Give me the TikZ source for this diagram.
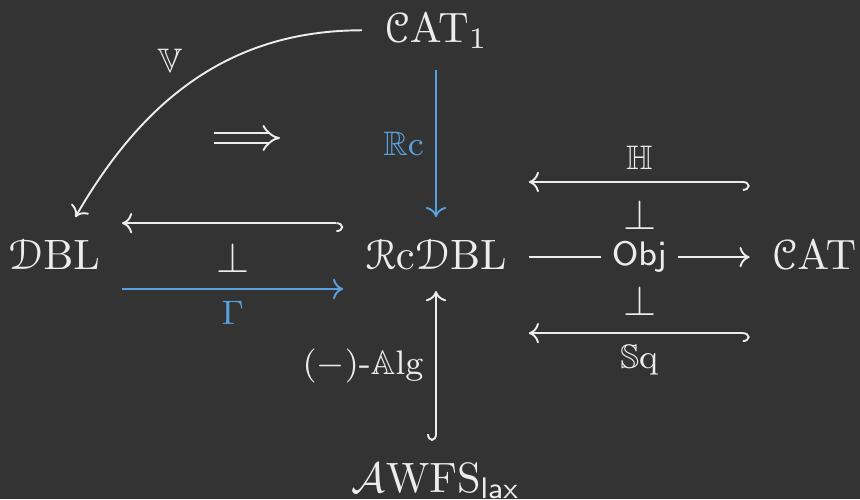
\documentclass[tikz,border=0pt]{standalone}
\usepackage{amssymb}
\usepackage[mathscr]{euscript}
\usetikzlibrary{arrows.meta,calc}
\DeclareMathAlphabet{\mathbbold}{U}{bbold}{m}{n}
\definecolor{bg}{RGB}{51,51,51}
\definecolor{fg}{RGB}{236,236,236}
\definecolor{hl}{RGB}{88,160,222}
\newcommand{\catname}{\ensuremath{\mathscr{C}\mathrm{AT}}}
\newcommand{\dblname}{\ensuremath{\mathscr{D}\mathrm{BL}}}
\tikzset{obj/.style={text=fg,inner sep=5pt,anchor=base},
  flow/.style={-{Computer Modern Rightarrow[length=2.4pt,width=4.8pt]},line width=0.45pt,draw=fg},
  incl/.style={flow,{Hooks[right,length=1.6pt,width=4.2pt]}-{Computer Modern Rightarrow[length=2.4pt,width=4.8pt]}},
  lbl/.style={font=\footnotesize,text=fg,inner sep=2.6pt},
  blu/.style={draw=hl,text=hl},
  adj/.style={text=fg,inner sep=0pt},
  twocell/.style={draw=fg,line width=0.45pt,double=bg,double distance=1.7pt,-{Implies}}}

\begin{document}
\begin{tikzpicture}[x=0.2355pt,y=-0.2355pt]
\fill[bg] (0,0) rectangle (860,499);
\useasboundingbox (0,0) rectangle (860,499);
% objects
\node[obj] (cat1) at (436,42) {$\catname_1$};
\node[obj] (dbl) at (54,269) {$\dblname$};
\node[obj] (rcdbl) at (436,269) {$\mathscr{R}\mathrm{c}\dblname$};
\node[obj] (cat) at (814,269) {$\catname$};
\node[obj] (awfs) at (436,492) {$\mathcal{A}\mathrm{WFS}_{\mathsf{lax}}$};
% adjunction marks
\node[adj] (adjl) at (233,258) {$\perp$};
\node[adj] (adjh) at (640,215) {$\perp$};
\node[adj] (adjs) at (640,301) {$\perp$};
\node[lbl] (vlab) at (170,61) {$\mathbb{V}$};
\coordinate (tw1) at (214,138);
\coordinate (tw2) at (280,138);
% arrows
\draw[flow] (cat1) to[out=180,in=60] (dbl);
\draw[twocell] (tw1) -- (tw2);
\draw[flow,blu] (cat1) -- node[lbl,left,text=hl]{$\mathbb{R}\mathrm{c}$} (rcdbl);
\draw[incl] (awfs) -- node[lbl,left]{$(-)$-$\mathbb{A}\mathrm{lg}$} (rcdbl);
\draw[incl] ([yshift=10.8pt]rcdbl.base west) -- ([yshift=10.8pt]dbl.base east);
\draw[flow,blu] ([yshift=-4.7pt]dbl.base east) -- node[lbl,below,text=hl]{$\mathbbold{\Gamma}$} ([yshift=-4.7pt]rcdbl.base west);
\draw[incl] ([yshift=20.5pt]cat.base west) -- node[lbl,above]{$\mathbb{H}$} ([yshift=20.5pt]rcdbl.base east);
\draw[flow] ([yshift=2.8pt]rcdbl.base east) -- node[lbl,fill=bg]{$\mathsf{Obj}$} ([yshift=2.8pt]cat.base west);
\draw[incl] ([yshift=-15.1pt]cat.base west) -- node[lbl,below]{$\mathbb{S}\mathrm{q}$} ([yshift=-15.1pt]rcdbl.base east);
\end{tikzpicture}
\end{document}
